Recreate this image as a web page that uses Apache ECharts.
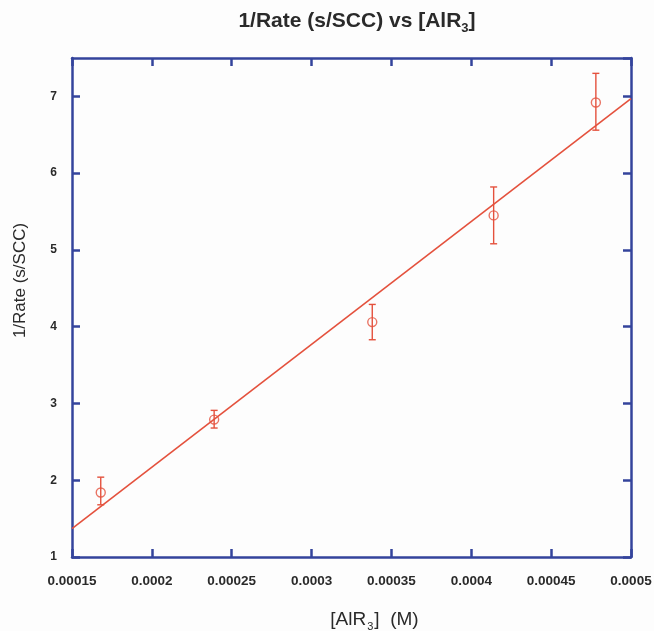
<!DOCTYPE html>
<html>
<head>
<meta charset="utf-8">
<script src="https://cdn.jsdelivr.net/npm/echarts@6/dist/echarts.min.js"></script>
<style>
  html, body { margin: 0; padding: 0; background: #fdfdfd; }
  #chart { width: 654px; height: 631px; }
</style>
</head>
<body>
<div id="chart"></div>
<script>
// Measured points: concentration [AlR3] (M) vs 1/Rate (s/SCC)
const concentration = [0.000168, 0.000239, 0.000338, 0.000414, 0.000478];
const invRate = [1.84, 2.79, 4.06, 5.45, 6.92];
const errLow = [1.68, 2.68, 3.83, 5.08, 6.56];
const errHigh = [2.04, 2.91, 4.29, 5.82, 7.30];

// Least-squares fit line, end points at the axis limits
const fitX = [0.00015, 0.0005];
const fitY = [1.37, 6.97];

const xTicks = { min: 0.00015, max: 0.0005, interval: 0.00005 };
const yTicks = { min: 1, max: 7.5, interval: 1 };

const FRAME = '#34449c';
const RED = '#e4513d';
const TEXT = '#2a2a2a';
const FONT = '"Liberation Sans", Arial, sans-serif';

const fmtX = v => String(Number(v.toFixed(6)));

const frameAxis = (extra) => Object.assign({
  axisLine: { show: true, onZero: false, lineStyle: { color: FRAME, width: 2.5 } },
  axisTick: { show: true, inside: true, length: 8, lineStyle: { color: FRAME, width: 2.5 } },
  splitLine: { show: false }
}, extra);

const chart = echarts.init(document.getElementById('chart'), null, { renderer: 'canvas' });

chart.setOption({
  backgroundColor: '#fdfdfd',
  animation: false,
  title: {
    text: '{t|1/Rate (s/SCC) vs [AlR}{s|3}{t|]}',
    left: 352,
    textAlign: 'center',
    top: 3,
    textStyle: {
      rich: {
        t: { fontFamily: FONT, fontSize: 21, fontWeight: 'bold', color: TEXT },
        s: { fontFamily: FONT, fontSize: 13, fontWeight: 'bold', color: TEXT, padding: [14, 0, 0, 0] }
      }
    }
  },
  grid: { left: 72, right: 23, top: 58, bottom: 74, containLabel: false, outerBoundsMode: 'none' },
  xAxis: [
    frameAxis({
      type: 'value', position: 'bottom',
      min: xTicks.min, max: xTicks.max, interval: xTicks.interval,
      name: '{t|[AlR}{s|3}{t|]  (M)}',
      nameLocation: 'middle', nameGap: 50,
      nameTextStyle: {
        padding: [0, 0, 0, 46],
        rich: {
          t: { fontFamily: FONT, fontSize: 19, color: TEXT },
          s: { fontFamily: FONT, fontSize: 11, color: TEXT, padding: [14, 1, 0, 1] }
        }
      },
      axisLabel: { color: TEXT, fontFamily: FONT, fontSize: 13.5, fontWeight: 'bold', margin: 17, formatter: fmtX }
    }),
    frameAxis({
      type: 'value', position: 'top',
      min: xTicks.min, max: xTicks.max, interval: xTicks.interval,
      axisLabel: { show: false }
    })
  ],
  yAxis: [
    frameAxis({
      type: 'value', position: 'left',
      min: yTicks.min, max: yTicks.max, interval: yTicks.interval,
      name: '1/Rate (s/SCC)',
      nameLocation: 'middle', nameGap: 43, nameRotate: 90,
      nameTextStyle: { fontFamily: FONT, fontSize: 17, color: TEXT, padding: [0, 0, 0, 54] },
      axisLabel: { color: TEXT, fontFamily: FONT, fontSize: 12, fontWeight: 'bold', margin: 15, showMaxLabel: false }
    }),
    frameAxis({
      type: 'value', position: 'right',
      min: yTicks.min, max: yTicks.max, interval: yTicks.interval,
      axisLabel: { show: false }
    })
  ],
  series: [
    {
      name: 'fit',
      type: 'line',
      data: fitX.map((x, i) => [x, fitY[i]]),
      showSymbol: false,
      lineStyle: { color: RED, width: 1.6 },
      z: 2
    },
    {
      name: 'error',
      type: 'custom',
      data: concentration.map((x, i) => [x, errLow[i], errHigh[i]]),
      renderItem: (params, api) => {
        const lo = api.coord([api.value(0), api.value(1)]);
        const hi = api.coord([api.value(0), api.value(2)]);
        const half = 3.5;
        const style = { stroke: RED, lineWidth: 1.4 };
        return {
          type: 'group',
          children: [
            { type: 'line', shape: { x1: lo[0], y1: lo[1], x2: hi[0], y2: hi[1] }, style },
            { type: 'line', shape: { x1: lo[0] - half, y1: lo[1], x2: lo[0] + half, y2: lo[1] }, style },
            { type: 'line', shape: { x1: hi[0] - half, y1: hi[1], x2: hi[0] + half, y2: hi[1] }, style }
          ]
        };
      },
      z: 3
    },
    {
      name: 'data',
      type: 'scatter',
      data: concentration.map((x, i) => [x, invRate[i]]),
      symbol: 'circle',
      symbolSize: 9,
      itemStyle: { color: 'rgba(255,255,255,0)', borderColor: RED, borderWidth: 1.4 },
      z: 4
    }
  ]
});
</script>
</body>
</html>
